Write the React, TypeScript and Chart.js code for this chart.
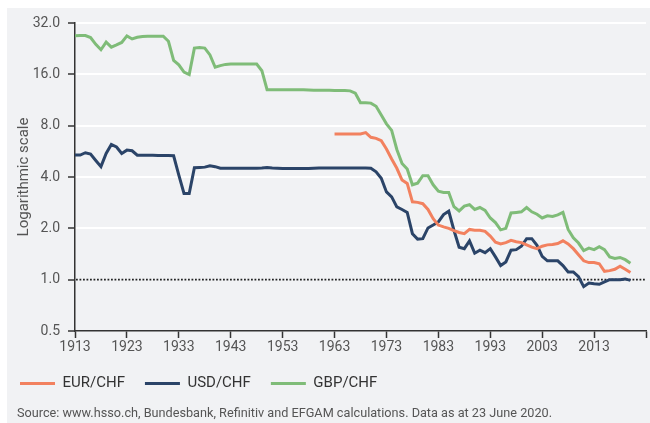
import React, { useEffect, useRef } from 'react';
import { Chart, registerables } from 'chart.js';

Chart.register(...registerables);
Chart.defaults.font.family = 'Roboto, sans-serif';

// ---- data (annual values, CHF per unit of foreign currency) ----
const usdGbpStartYear = 1913;
const eurStartYear = 1963;

const gbpChf = [
  26.9, 27.0, 27.0, 26.3, 24.0, 22.3, 24.7, 23.1, 23.8, 24.6,
  26.9, 25.8, 26.4, 26.7, 26.8, 26.8, 26.8, 26.8, 25.0, 19.3,
  18.2, 16.5, 15.95, 22.8, 23.0, 22.8, 20.8, 17.6, 18.0, 18.3,
  18.4, 18.4, 18.4, 18.4, 18.4, 18.4, 16.8, 13.0, 13.0, 13.0,
  13.0, 13.0, 13.0, 13.0, 13.0, 12.95, 12.9, 12.9, 12.9, 12.9,
  12.85, 12.85, 12.85, 12.8, 12.4, 10.9, 10.9, 10.85, 10.4, 9.25,
  8.2, 7.5, 5.8, 4.8, 4.45, 3.6, 3.68, 4.07, 4.07, 3.6,
  3.3, 3.25, 3.25, 2.68, 2.53, 2.7, 2.75, 2.58, 2.65, 2.55,
  2.3, 2.16, 1.96, 2.0, 2.46, 2.48, 2.5, 2.65, 2.5, 2.42,
  2.3, 2.37, 2.35, 2.4, 2.48, 1.97, 1.76, 1.64, 1.48, 1.53,
  1.5, 1.56, 1.5, 1.36, 1.33, 1.35, 1.31, 1.25,
];

const usdChf = [
  5.38, 5.38, 5.55, 5.45, 5.0, 4.6, 5.5, 6.2, 6.0, 5.5,
  5.75, 5.7, 5.37, 5.36, 5.36, 5.36, 5.35, 5.34, 5.34, 5.33,
  4.1, 3.2, 3.2, 4.53, 4.55, 4.57, 4.65, 4.6, 4.5, 4.5,
  4.5, 4.5, 4.5, 4.5, 4.5, 4.5, 4.52, 4.55, 4.52, 4.5,
  4.48, 4.48, 4.48, 4.48, 4.48, 4.48, 4.5, 4.52, 4.52, 4.52,
  4.52, 4.52, 4.52, 4.52, 4.52, 4.52, 4.52, 4.5, 4.29, 3.93,
  3.27, 3.06, 2.67, 2.58, 2.48, 1.86, 1.73, 1.74, 2.01, 2.09,
  2.18, 2.41, 2.52, 1.95, 1.55, 1.52, 1.69, 1.43, 1.49, 1.44,
  1.52, 1.36, 1.21, 1.27, 1.49, 1.5, 1.57, 1.74, 1.74, 1.59,
  1.37, 1.29, 1.29, 1.29, 1.21, 1.11, 1.11, 1.04, 0.91, 0.955,
  0.945, 0.94, 0.97, 1.0, 1.0, 1.0, 1.01, 0.99,
];

const eurChf = [
  7.15, 7.15, 7.15, 7.15, 7.15, 7.15, 7.28, 6.84, 6.74, 6.53,
  5.84, 5.1, 4.5, 3.84, 3.67, 2.86, 2.84, 2.79, 2.58, 2.28,
  2.09, 2.04, 2.0, 1.94, 1.89, 1.86, 1.97, 1.95, 1.95, 1.92,
  1.8, 1.66, 1.62, 1.65, 1.7, 1.67, 1.65, 1.6, 1.55, 1.52,
  1.57, 1.6, 1.61, 1.63, 1.69, 1.62, 1.52, 1.4, 1.29, 1.26,
  1.26, 1.24, 1.12, 1.13, 1.15, 1.2, 1.15, 1.1,
];

const xTickValues = [1913, 1923, 1933, 1943, 1953, 1963, 1973, 1983, 1993, 2003, 2013, 2023];
const xTickLabels = ['1913', '1923', '1933', '1943', '1953', '1963', '1973', '1983', '1993', '2003', '2013', ''];
const yTickValues = [0.5, 1, 2, 4, 8, 16, 32];
const referenceValue = 1;

const seriesNames = ['EUR/CHF', 'USD/CHF', 'GBP/CHF'];
const seriesColors = ['#f2815f', '#2b4468', '#7fbc78'];
const sourceText = 'Source: www.hsso.ch, Bundesbank, Refinitiv and EFGAM calculations. Data as at 23 June 2020.';

const toPoints = (values: number[], start: number) =>
  values.map((v, i) => ({ x: start + i, y: v }));

const refLinePlugin = {
  id: 'refLine',
  beforeDatasetsDraw(chart: any) {
    const { ctx, chartArea } = chart;
    const y = chart.scales.y.getPixelForValue(referenceValue);
    ctx.save();
    ctx.setLineDash([1.8, 1.7]);
    ctx.lineWidth = 1.8;
    ctx.strokeStyle = '#222';
    ctx.beginPath();
    ctx.moveTo(chartArea.left + 1, y);
    ctx.lineTo(chartArea.right, y);
    ctx.stroke();
    ctx.restore();
  },
};

const sourcePlugin = {
  id: 'sourceNote',
  afterDraw(chart: any) {
    const { ctx } = chart;
    ctx.save();
    ctx.font = '12.7px Roboto, sans-serif';
    ctx.fillStyle = '#555';
    ctx.textBaseline = 'middle';
    ctx.textAlign = 'left';
    ctx.fillText(sourceText, 17, 413.5);
    ctx.restore();
  },
};

export default function App() {
  const ref = useRef<HTMLCanvasElement>(null);

  useEffect(() => {
    const canvas = ref.current;
    if (!canvas) return;
    const series = [eurChf, usdChf, gbpChf];
    const starts = [eurStartYear, usdGbpStartYear, usdGbpStartYear];
    const chart = new Chart(canvas, {
      type: 'line',
      data: {
        datasets: series.map((vals, i) => ({
          label: seriesNames[i],
          data: toPoints(vals, starts[i]),
          borderColor: seriesColors[i],
          backgroundColor: seriesColors[i],
          borderWidth: 3,
          pointRadius: 0,
          tension: 0,
          fill: false,
        })),
      },
      options: {
        animation: false,
        responsive: false,
        layout: { padding: { left: 0, right: 4, top: 23, bottom: 22 } },
        plugins: {
          legend: {
            position: 'bottom',
            align: 'start',
            labels: {
              boxWidth: 35,
              boxHeight: 3,
              padding: 20,
              color: '#333',
              font: { size: 15 },
              generateLabels: (c: any) =>
                (Chart.defaults.plugins.legend.labels.generateLabels as any)(c).map((l: any) => ({
                  ...l,
                  lineWidth: 0,
                })),
            },
          },
          tooltip: { enabled: false },
        },
        scales: {
          x: {
            type: 'linear',
            min: 1913,
            max: 2023,
            afterBuildTicks: (s: any) => {
              s.ticks = xTickValues.map((v) => ({ value: v }));
            },
            afterFit: (s: any) => {
              s.height = 25;
            },
            ticks: {
              autoSkip: false,
              maxRotation: 0,
              padding: 1.5,
              color: '#555',
              font: { size: 14 },
              callback: (_v: any, i: number) => xTickLabels[i],
            },
            grid: {
              drawOnChartArea: false,
              drawTicks: true,
              tickLength: 7,
              tickColor: '#333',
              tickWidth: 1.5,
            },
            border: { color: '#333', width: 1.5 },
          },
          y: {
            type: 'logarithmic',
            min: 0.5,
            max: 32,
            afterBuildTicks: (s: any) => {
              s.ticks = yTickValues.map((v) => ({ value: v }));
            },
            afterFit: (s: any) => {
              s.width = 75;
            },
            ticks: {
              autoSkip: false,
              padding: 8,
              color: '#555',
              font: { size: 14 },
              callback: (v: any) => Number(v).toFixed(1),
            },
            grid: {
              color: (ctx: any) =>
                ctx.tick && ctx.tick.value >= 2 ? '#ffffff' : 'rgba(0,0,0,0)',
              lineWidth: 2,
              drawTicks: true,
              tickLength: 7,
              tickColor: '#333',
              tickWidth: 1.5,
            },
            border: { color: '#333', width: 1.5 },
            title: {
              display: true,
              text: 'Logarithmic scale',
              color: '#555',
              font: { size: 15 },
              padding: { top: 15, bottom: 0 },
            },
          },
        },
      } as any,
      plugins: [refLinePlugin, sourcePlugin],
    });
    return () => chart.destroy();
  }, []);

  return (
    <>
      <div
        style={{
          position: 'fixed',
          left: 7,
          top: 8,
          width: 643,
          height: 415,
          background: '#f1f2f4',
        }}
      />
      <canvas
        ref={ref}
        width={650}
        height={423}
        style={{ position: 'fixed', left: 0, top: 0, width: 650, height: 423 }}
      />
    </>
  );
}
